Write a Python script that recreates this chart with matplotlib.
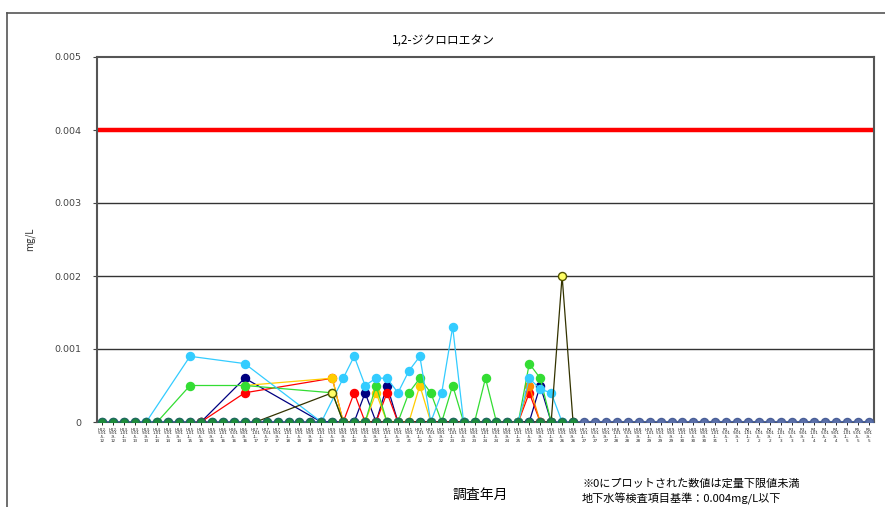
import matplotlib
matplotlib.use("Agg")
import matplotlib.pyplot as plt
import numpy as np

plt.rcParams['font.family'] = ['Noto Sans CJK JP', 'DejaVu Sans']

# ---- data ----
categories = ["H12.5","H12.9","H13.1","H13.5","H13.9","H14.1","H14.5","H14.9","H15.1","H15.5",
              "H15.9","H16.1","H16.5","H16.9","H17.1","H17.5","H17.9","H18.1","H18.5","H18.9",
              "H19.1","H19.5","H19.9","H20.1","H20.5","H20.9","H21.1","H21.5","H21.9","H22.1",
              "H22.5","H22.9","H23.1","H23.5","H23.9","H24.1","H24.5","H24.9","H25.1","H25.5",
              "H25.9","H26.1","H26.5","H26.9","H27.1","H27.5","H27.9","H28.1","H28.5","H28.9",
              "H29.1","H29.5","H29.9","H30.1","H30.5","H30.9","H31.1","R1.5","R1.9","R2.1",
              "R2.5","R2.9","R3.1","R3.5","R3.9","R4.1","R4.5","R4.9","R5.1","R5.5","R5.9"]

standard = 0.004

# zero baseline series (below quantification limit)
base_blue_idx = list(range(0, 71))
base_blue_val = [0.0] * 71
base_green_idx = list(range(0, 44))
base_green_val = [0.0] * 44

cyan_idx = [4, 8, 13, 20, 22, 23, 24, 25, 26, 27, 28, 29, 30, 31, 32, 33, 38, 39, 40, 41, 42]
cyan_val = [0, 0.0009, 0.0008, 0, 0.0006, 0.0009, 0.0005, 0.0006, 0.0006, 0.0004, 0.0007, 0.0009,
            0, 0.0004, 0.0013, 0, 0, 0.0006, 0.00045, 0.0004, 0]

green_idx = [5, 8, 13, 21, 22, 24, 25, 26, 27, 28, 29, 30, 31, 32, 33, 34, 35, 36, 38, 39, 40, 41]
green_val = [0, 0.0005, 0.0005, 0.0004, 0, 0, 0.0005, 0, 0, 0.0004, 0.0006, 0.0004, 0, 0.0005, 0,
             0, 0.0006, 0, 0, 0.0008, 0.0006, 0]

red_idx = [9, 13, 21, 22, 23, 24, 25, 26, 27, 38, 39, 40]
red_val = [0, 0.0004, 0.0006, 0, 0.0004, 0, 0, 0.0004, 0, 0, 0.0004, 0]

navy_idx = [9, 13, 20, 23, 24, 25, 26, 27, 39, 40, 41]
navy_val = [0, 0.0006, 0, 0, 0.0004, 0, 0.0005, 0, 0, 0.0005, 0]

yellow_idx = [13, 21, 22, 24, 25, 26, 28, 29, 30]
yellow_val = [0.0005, 0.0006, 0, 0, 0.0004, 0, 0, 0.0005, 0]

orange_idx = [38, 39, 40]
orange_val = [0, 0.0005, 0]

olive_idx = [14, 21, 22, 41, 42, 43]
olive_val = [0, 0.0004, 0, 0, 0.002, 0]

# ---- figure ----
W, H = 885, 507
fig = plt.figure(figsize=(W / 100, H / 100), dpi=100)
ax = fig.add_axes([97 / W, 1 - 422 / H, (874 - 97) / W, (422 - 57) / H])

x = np.arange(len(categories))
ax.set_xlim(-0.5, len(categories) - 0.5)
ax.set_ylim(0, 0.005)

for yv in [0.001, 0.002, 0.003]:
    ax.axhline(yv, color='#333333', lw=1.0, zorder=1)
ax.axhline(standard, color='#FF0000', lw=3.2, zorder=2)

ms = 5.8
ax.plot(base_blue_idx, base_blue_val, color='#4466BB', lw=1.2, marker='o', ms=ms,
        mfc='#5A6FA8', mec='#4A5F98', zorder=3)

def series(idx, val, color, mfc=None, mec=None, z=4):
    ax.plot(idx, val, color=color, lw=0.9, marker='o', ms=ms,
            mfc=mfc or color, mec=mec or color, zorder=z)

series(navy_idx, navy_val, '#000080', z=4)
series(red_idx, red_val, '#FF0000', z=4)
series(orange_idx, orange_val, '#FF8800', z=4)
series(olive_idx, olive_val, '#333300', mfc='#FFFF66', mec='#555500', z=5)
series(yellow_idx, yellow_val, '#FFCC00', z=4)
series(green_idx, green_val, '#33DD33', z=4)
series(cyan_idx, cyan_val, '#33CCFF', z=4)

ax.plot(base_green_idx, base_green_val, lw=0, marker='o', ms=ms,
        mfc='#1E8C3A', mec='#1E6E5A', zorder=6)

# axes styling
for s in ax.spines.values():
    s.set_color('#555555')
    s.set_linewidth(1.5)

ax.set_yticks([0, 0.001, 0.002, 0.003, 0.004, 0.005])
ax.set_yticklabels(['0', '0.001', '0.002', '0.003', '0.004', '0.005'], fontsize=6.8,
                   color='#333333', family='Liberation Sans Narrow')
ax.tick_params(axis='y', length=3, width=0.8, pad=8, colors='#444444')

def fmt(lbl):
    era = lbl[0]
    y, m = lbl[1:].split('.')
    return f"{era}{y}.\n{m}.01\n-{m}-\n{y}"

ax.set_xticks(x)
ax.set_xticklabels([fmt(c) for c in categories], fontsize=3.0, color='#222222',
                   linespacing=0.9, family='DejaVu Sans')
ax.tick_params(axis='x', length=2, width=0.6, pad=2)

ax.set_ylabel('mg/L', fontsize=7, color='#333333', labelpad=14)

fig.text(443 / W, 1 - 40 / H, '1,2-ジクロロエタン', ha='center', va='center', fontsize=8.5)
fig.text(480 / W, 1 - 495 / H, '調査年月', ha='center', va='center', fontsize=10)
fig.text(582 / W, 1 - 484 / H, '※0にプロットされた数値は定量下限値未満', ha='left', va='center',
         fontsize=8)
fig.text(582 / W, 1 - 499 / H, '地下水等検査項目基準：0.004mg/L以下', ha='left', va='center',
         fontsize=8)

# outer chart border
fig.add_artist(plt.Line2D([7 / W, 7 / W], [0, 1 - 13 / H], color='#555555', lw=1.2,
                          transform=fig.transFigure))
fig.add_artist(plt.Line2D([7 / W, 1], [1 - 13 / H, 1 - 13 / H], color='#555555', lw=1.2,
                          transform=fig.transFigure))

fig.savefig('out.png', dpi=100)
